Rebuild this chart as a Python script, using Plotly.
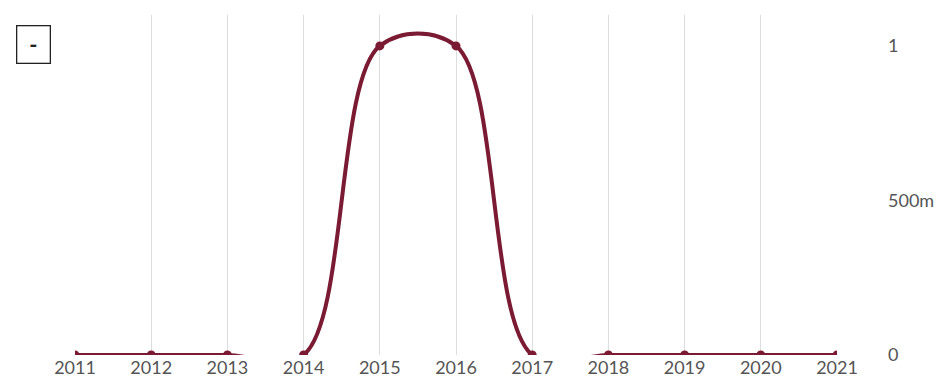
import plotly.graph_objects as go

years = [2011, 2012, 2013, 2014, 2015, 2016, 2017, 2018, 2019, 2020, 2021]
values = [0, 0, 0, 0, 1, 1, 0, 0, 0, 0, 0]
y_ticks = [0, 0.5, 1]

line_col = "#7b1a33"

fig = go.Figure(go.Scatter(
    x=years, y=values, mode="lines+markers",
    line=dict(color=line_col, width=4, shape="spline", smoothing=1.0),
    marker=dict(color=line_col, size=9),
    showlegend=False,
))

fig.add_annotation(
    text="<b>-</b>", xref="paper", yref="paper", x=-0.0774, y=0.97,
    xanchor="left", yanchor="top", showarrow=False,
    width=28, height=32, borderpad=2, bordercolor="#222", borderwidth=1.3,
    font=dict(size=22, color="#222"),
)

fig.update_layout(
    width=939, height=379,
    margin=dict(l=75, r=102, t=15, b=24),
    plot_bgcolor="white", paper_bgcolor="white",
    font=dict(family="Source Sans Pro, Lato, sans-serif", size=18, color="#555"),
    xaxis=dict(range=[2011, 2021], tickvals=years, showgrid=True, gridcolor="#dddddd",
               gridwidth=1, zeroline=False, showline=False, ticks="", automargin=False),
    yaxis=dict(range=[0, 1.1], side="right", tickvals=y_ticks, tickformat="~s",
               showgrid=False, zeroline=False, showline=False, ticks="",
               ticklabelstandoff=50, automargin=False),
)

# browser default body margin would shift the chart by 8px
fig.write_html("out.html", config={"displayModeBar": False},
               post_script="document.body.style.margin='0';")
